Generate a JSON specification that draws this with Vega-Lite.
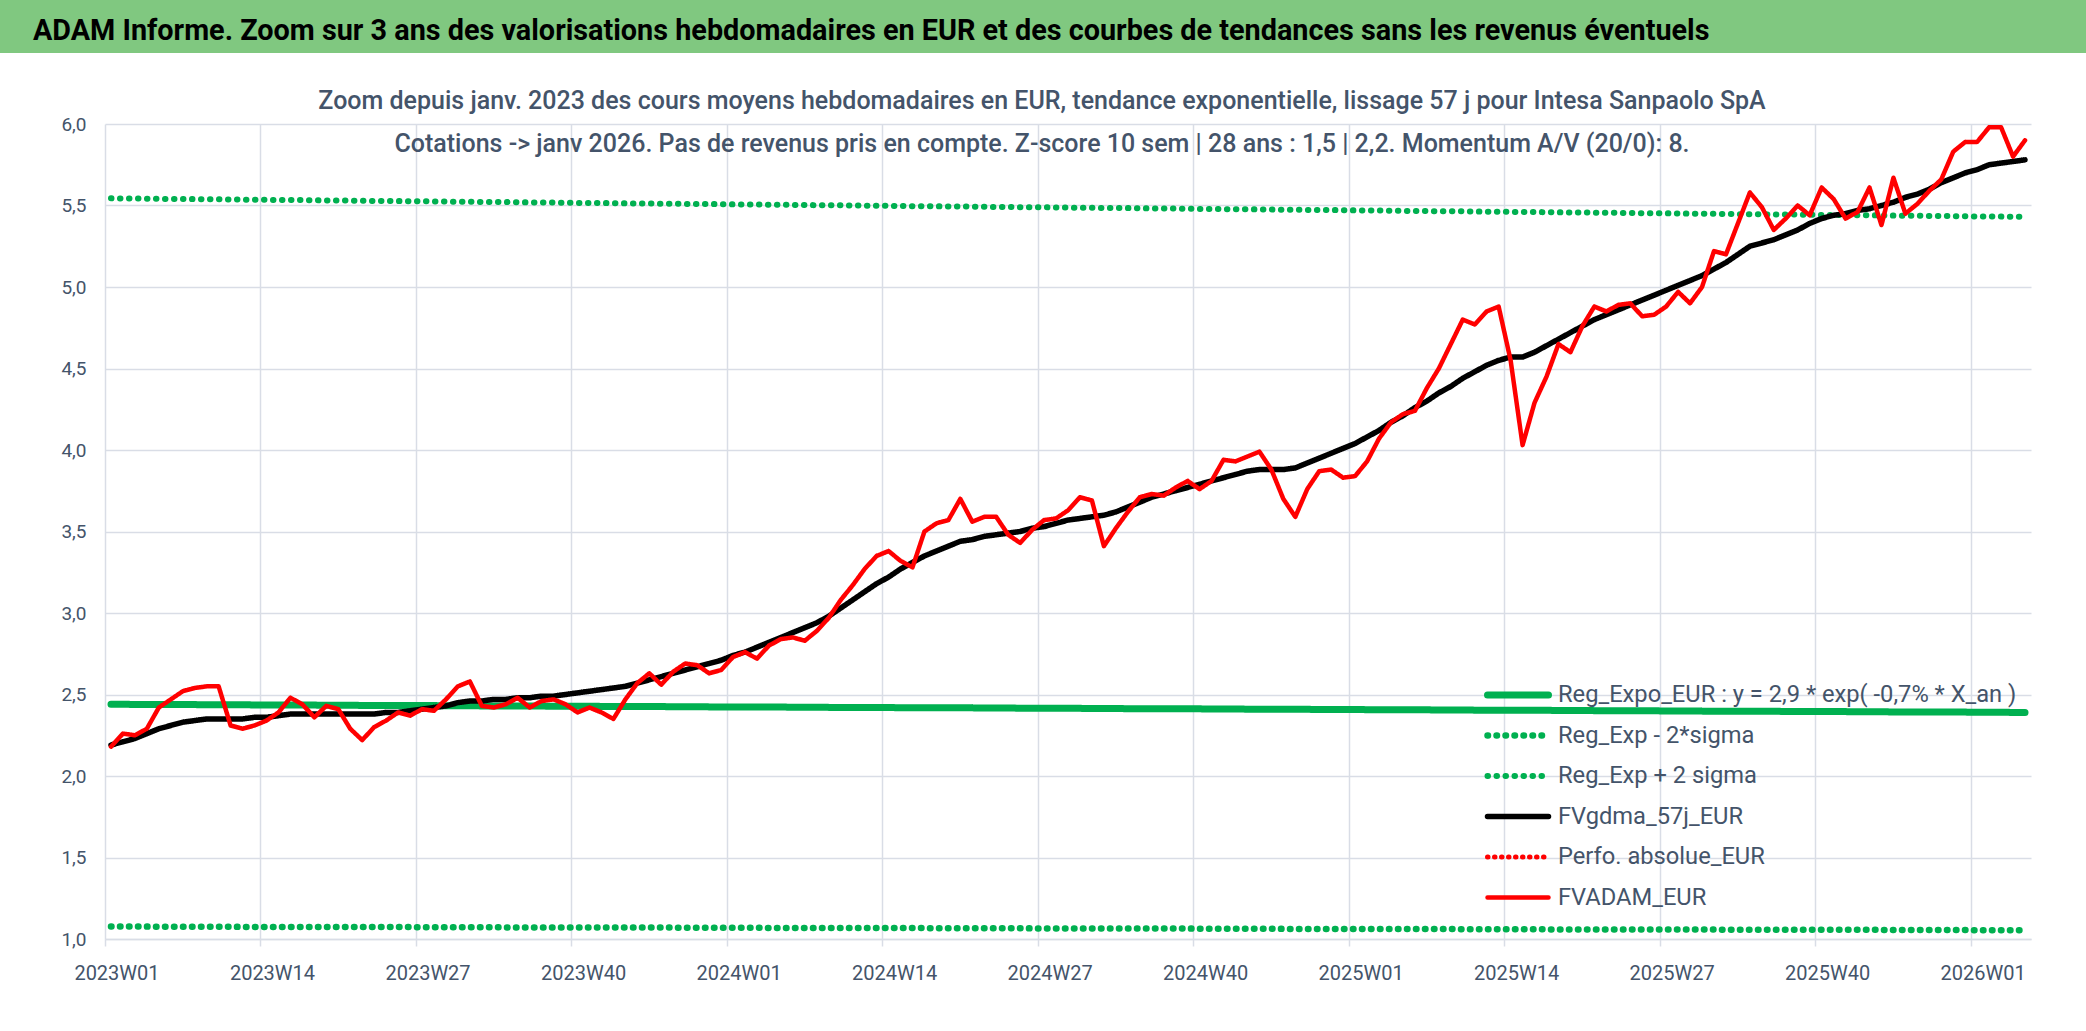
{
"$schema": "https://vega.github.io/schema/vega-lite/v6.json",
"padding": 0,
"background": "white",
"spacing": 36,
"config": {"view": {"stroke": null}},
"vconcat": [
{
 "width": 2086, "height": 53,
 "view": {"fill": "#80c880", "stroke": null},
 "data": {"values": [{"t": "ADAM Informe. Zoom sur 3 ans des valorisations hebdomadaires en EUR et des courbes de tendances sans les revenus éventuels"}]},
 "mark": {"type": "text", "align": "left", "baseline": "alphabetic", "dx": -1010, "dy": 13.5, "font": "Roboto", "fontSize": 28.8, "fontWeight": "bold", "color": "#000000"},
 "encoding": {"text": {"field": "t"}}
},
{"spacing": 0, "hconcat": [
{
 "width": 1, "height": 1,
 "data": {"values": []},
 "mark": {"type": "point", "opacity": 0},
 "encoding": {}
},
{
 "width": 1926, "height": 815,
 "title": {"text": ["Zoom depuis janv. 2023 des cours moyens hebdomadaires en EUR, tendance exponentielle, lissage 57 j pour Intesa Sanpaolo SpA", "Cotations -> janv 2026. Pas de revenus pris en compte. Z-score 10 sem | 28 ans : 1,5 | 2,2. Momentum A/V (20/0): 8."], "anchor": "middle", "frame": "group", "dx": -26, "offset": -42, "font": "Roboto", "fontSize": 25, "fontWeight": 500, "color": "#44546a", "lineHeight": 43},
 "data": {"values": [
{"w":"2023W01","reg":2.440,"lo":1.076,"hi":5.544,"ma":2.19,"fv":2.18},
{"w":"2023W02","reg":2.440,"lo":1.076,"hi":5.543,"ma":2.21,"fv":2.26},
{"w":"2023W03","reg":2.439,"lo":1.076,"hi":5.543,"ma":2.23,"fv":2.25},
{"w":"2023W04","reg":2.439,"lo":1.076,"hi":5.542,"ma":2.26,"fv":2.29},
{"w":"2023W05","reg":2.439,"lo":1.075,"hi":5.541,"ma":2.29,"fv":2.42},
{"w":"2023W06","reg":2.438,"lo":1.075,"hi":5.540,"ma":2.31,"fv":2.47},
{"w":"2023W07","reg":2.438,"lo":1.075,"hi":5.540,"ma":2.33,"fv":2.52},
{"w":"2023W08","reg":2.438,"lo":1.075,"hi":5.539,"ma":2.34,"fv":2.54},
{"w":"2023W09","reg":2.437,"lo":1.075,"hi":5.538,"ma":2.35,"fv":2.55},
{"w":"2023W10","reg":2.437,"lo":1.075,"hi":5.538,"ma":2.35,"fv":2.55},
{"w":"2023W11","reg":2.437,"lo":1.075,"hi":5.537,"ma":2.35,"fv":2.31},
{"w":"2023W12","reg":2.437,"lo":1.074,"hi":5.536,"ma":2.35,"fv":2.29},
{"w":"2023W13","reg":2.436,"lo":1.074,"hi":5.535,"ma":2.36,"fv":2.31},
{"w":"2023W14","reg":2.436,"lo":1.074,"hi":5.535,"ma":2.36,"fv":2.34},
{"w":"2023W15","reg":2.436,"lo":1.074,"hi":5.534,"ma":2.37,"fv":2.39},
{"w":"2023W16","reg":2.435,"lo":1.074,"hi":5.533,"ma":2.38,"fv":2.48},
{"w":"2023W17","reg":2.435,"lo":1.074,"hi":5.533,"ma":2.38,"fv":2.44},
{"w":"2023W18","reg":2.435,"lo":1.074,"hi":5.532,"ma":2.38,"fv":2.36},
{"w":"2023W19","reg":2.434,"lo":1.074,"hi":5.531,"ma":2.38,"fv":2.43},
{"w":"2023W20","reg":2.434,"lo":1.073,"hi":5.531,"ma":2.38,"fv":2.41},
{"w":"2023W21","reg":2.434,"lo":1.073,"hi":5.530,"ma":2.38,"fv":2.29},
{"w":"2023W22","reg":2.433,"lo":1.073,"hi":5.529,"ma":2.38,"fv":2.22},
{"w":"2023W23","reg":2.433,"lo":1.073,"hi":5.528,"ma":2.38,"fv":2.30},
{"w":"2023W24","reg":2.433,"lo":1.073,"hi":5.528,"ma":2.39,"fv":2.34},
{"w":"2023W25","reg":2.433,"lo":1.073,"hi":5.527,"ma":2.39,"fv":2.39},
{"w":"2023W26","reg":2.432,"lo":1.073,"hi":5.526,"ma":2.40,"fv":2.37},
{"w":"2023W27","reg":2.432,"lo":1.072,"hi":5.526,"ma":2.41,"fv":2.41},
{"w":"2023W28","reg":2.432,"lo":1.072,"hi":5.525,"ma":2.42,"fv":2.40},
{"w":"2023W29","reg":2.431,"lo":1.072,"hi":5.524,"ma":2.43,"fv":2.47},
{"w":"2023W30","reg":2.431,"lo":1.072,"hi":5.523,"ma":2.45,"fv":2.55},
{"w":"2023W31","reg":2.431,"lo":1.072,"hi":5.523,"ma":2.46,"fv":2.58},
{"w":"2023W32","reg":2.430,"lo":1.072,"hi":5.522,"ma":2.46,"fv":2.43},
{"w":"2023W33","reg":2.430,"lo":1.072,"hi":5.521,"ma":2.47,"fv":2.42},
{"w":"2023W34","reg":2.430,"lo":1.071,"hi":5.521,"ma":2.47,"fv":2.44},
{"w":"2023W35","reg":2.429,"lo":1.071,"hi":5.520,"ma":2.48,"fv":2.48},
{"w":"2023W36","reg":2.429,"lo":1.071,"hi":5.519,"ma":2.48,"fv":2.42},
{"w":"2023W37","reg":2.429,"lo":1.071,"hi":5.518,"ma":2.49,"fv":2.46},
{"w":"2023W38","reg":2.428,"lo":1.071,"hi":5.518,"ma":2.49,"fv":2.47},
{"w":"2023W39","reg":2.428,"lo":1.071,"hi":5.517,"ma":2.50,"fv":2.44},
{"w":"2023W40","reg":2.428,"lo":1.071,"hi":5.516,"ma":2.51,"fv":2.39},
{"w":"2023W41","reg":2.428,"lo":1.070,"hi":5.516,"ma":2.52,"fv":2.42},
{"w":"2023W42","reg":2.427,"lo":1.070,"hi":5.515,"ma":2.53,"fv":2.39},
{"w":"2023W43","reg":2.427,"lo":1.070,"hi":5.514,"ma":2.54,"fv":2.35},
{"w":"2023W44","reg":2.427,"lo":1.070,"hi":5.513,"ma":2.55,"fv":2.47},
{"w":"2023W45","reg":2.426,"lo":1.070,"hi":5.513,"ma":2.57,"fv":2.57},
{"w":"2023W46","reg":2.426,"lo":1.070,"hi":5.512,"ma":2.59,"fv":2.63},
{"w":"2023W47","reg":2.426,"lo":1.070,"hi":5.511,"ma":2.61,"fv":2.56},
{"w":"2023W48","reg":2.425,"lo":1.070,"hi":5.511,"ma":2.63,"fv":2.64},
{"w":"2023W49","reg":2.425,"lo":1.069,"hi":5.510,"ma":2.65,"fv":2.69},
{"w":"2023W50","reg":2.425,"lo":1.069,"hi":5.509,"ma":2.67,"fv":2.68},
{"w":"2023W51","reg":2.424,"lo":1.069,"hi":5.509,"ma":2.69,"fv":2.63},
{"w":"2023W52","reg":2.424,"lo":1.069,"hi":5.508,"ma":2.71,"fv":2.65},
{"w":"2024W01","reg":2.424,"lo":1.069,"hi":5.507,"ma":2.74,"fv":2.73},
{"w":"2024W02","reg":2.423,"lo":1.069,"hi":5.506,"ma":2.76,"fv":2.76},
{"w":"2024W03","reg":2.423,"lo":1.069,"hi":5.506,"ma":2.79,"fv":2.72},
{"w":"2024W04","reg":2.423,"lo":1.068,"hi":5.505,"ma":2.82,"fv":2.80},
{"w":"2024W05","reg":2.423,"lo":1.068,"hi":5.504,"ma":2.85,"fv":2.84},
{"w":"2024W06","reg":2.422,"lo":1.068,"hi":5.504,"ma":2.88,"fv":2.85},
{"w":"2024W07","reg":2.422,"lo":1.068,"hi":5.503,"ma":2.91,"fv":2.83},
{"w":"2024W08","reg":2.422,"lo":1.068,"hi":5.502,"ma":2.94,"fv":2.89},
{"w":"2024W09","reg":2.421,"lo":1.068,"hi":5.501,"ma":2.98,"fv":2.97},
{"w":"2024W10","reg":2.421,"lo":1.068,"hi":5.501,"ma":3.03,"fv":3.08},
{"w":"2024W11","reg":2.421,"lo":1.067,"hi":5.500,"ma":3.08,"fv":3.17},
{"w":"2024W12","reg":2.420,"lo":1.067,"hi":5.499,"ma":3.13,"fv":3.27},
{"w":"2024W13","reg":2.420,"lo":1.067,"hi":5.499,"ma":3.18,"fv":3.35},
{"w":"2024W14","reg":2.420,"lo":1.067,"hi":5.498,"ma":3.22,"fv":3.38},
{"w":"2024W15","reg":2.419,"lo":1.067,"hi":5.497,"ma":3.27,"fv":3.32},
{"w":"2024W16","reg":2.419,"lo":1.067,"hi":5.496,"ma":3.31,"fv":3.28},
{"w":"2024W17","reg":2.419,"lo":1.067,"hi":5.496,"ma":3.35,"fv":3.50},
{"w":"2024W18","reg":2.418,"lo":1.066,"hi":5.495,"ma":3.38,"fv":3.55},
{"w":"2024W19","reg":2.418,"lo":1.066,"hi":5.494,"ma":3.41,"fv":3.57},
{"w":"2024W20","reg":2.418,"lo":1.066,"hi":5.494,"ma":3.44,"fv":3.70},
{"w":"2024W21","reg":2.418,"lo":1.066,"hi":5.493,"ma":3.45,"fv":3.56},
{"w":"2024W22","reg":2.417,"lo":1.066,"hi":5.492,"ma":3.47,"fv":3.59},
{"w":"2024W23","reg":2.417,"lo":1.066,"hi":5.491,"ma":3.48,"fv":3.59},
{"w":"2024W24","reg":2.417,"lo":1.066,"hi":5.491,"ma":3.49,"fv":3.48},
{"w":"2024W25","reg":2.416,"lo":1.066,"hi":5.490,"ma":3.50,"fv":3.43},
{"w":"2024W26","reg":2.416,"lo":1.065,"hi":5.489,"ma":3.52,"fv":3.51},
{"w":"2024W27","reg":2.416,"lo":1.065,"hi":5.489,"ma":3.53,"fv":3.57},
{"w":"2024W28","reg":2.415,"lo":1.065,"hi":5.488,"ma":3.55,"fv":3.58},
{"w":"2024W29","reg":2.415,"lo":1.065,"hi":5.487,"ma":3.57,"fv":3.63},
{"w":"2024W30","reg":2.415,"lo":1.065,"hi":5.486,"ma":3.58,"fv":3.71},
{"w":"2024W31","reg":2.414,"lo":1.065,"hi":5.486,"ma":3.59,"fv":3.69},
{"w":"2024W32","reg":2.414,"lo":1.065,"hi":5.485,"ma":3.60,"fv":3.41},
{"w":"2024W33","reg":2.414,"lo":1.064,"hi":5.484,"ma":3.62,"fv":3.52},
{"w":"2024W34","reg":2.413,"lo":1.064,"hi":5.484,"ma":3.65,"fv":3.62},
{"w":"2024W35","reg":2.413,"lo":1.064,"hi":5.483,"ma":3.68,"fv":3.71},
{"w":"2024W36","reg":2.413,"lo":1.064,"hi":5.482,"ma":3.71,"fv":3.73},
{"w":"2024W37","reg":2.413,"lo":1.064,"hi":5.482,"ma":3.73,"fv":3.72},
{"w":"2024W38","reg":2.412,"lo":1.064,"hi":5.481,"ma":3.75,"fv":3.77},
{"w":"2024W39","reg":2.412,"lo":1.064,"hi":5.480,"ma":3.77,"fv":3.81},
{"w":"2024W40","reg":2.412,"lo":1.063,"hi":5.479,"ma":3.79,"fv":3.76},
{"w":"2024W41","reg":2.411,"lo":1.063,"hi":5.479,"ma":3.81,"fv":3.81},
{"w":"2024W42","reg":2.411,"lo":1.063,"hi":5.478,"ma":3.83,"fv":3.94},
{"w":"2024W43","reg":2.411,"lo":1.063,"hi":5.477,"ma":3.85,"fv":3.93},
{"w":"2024W44","reg":2.410,"lo":1.063,"hi":5.477,"ma":3.87,"fv":3.96},
{"w":"2024W45","reg":2.410,"lo":1.063,"hi":5.476,"ma":3.88,"fv":3.99},
{"w":"2024W46","reg":2.410,"lo":1.063,"hi":5.475,"ma":3.88,"fv":3.88},
{"w":"2024W47","reg":2.409,"lo":1.062,"hi":5.474,"ma":3.88,"fv":3.70},
{"w":"2024W48","reg":2.409,"lo":1.062,"hi":5.474,"ma":3.89,"fv":3.59},
{"w":"2024W49","reg":2.409,"lo":1.062,"hi":5.473,"ma":3.92,"fv":3.76},
{"w":"2024W50","reg":2.408,"lo":1.062,"hi":5.472,"ma":3.95,"fv":3.87},
{"w":"2024W51","reg":2.408,"lo":1.062,"hi":5.472,"ma":3.98,"fv":3.88},
{"w":"2024W52","reg":2.408,"lo":1.062,"hi":5.471,"ma":4.01,"fv":3.83},
{"w":"2025W01","reg":2.408,"lo":1.062,"hi":5.470,"ma":4.04,"fv":3.84},
{"w":"2025W02","reg":2.407,"lo":1.062,"hi":5.469,"ma":4.08,"fv":3.93},
{"w":"2025W03","reg":2.407,"lo":1.061,"hi":5.469,"ma":4.12,"fv":4.07},
{"w":"2025W04","reg":2.407,"lo":1.061,"hi":5.468,"ma":4.17,"fv":4.17},
{"w":"2025W05","reg":2.406,"lo":1.061,"hi":5.467,"ma":4.21,"fv":4.22},
{"w":"2025W06","reg":2.406,"lo":1.061,"hi":5.467,"ma":4.26,"fv":4.24},
{"w":"2025W07","reg":2.406,"lo":1.061,"hi":5.466,"ma":4.30,"fv":4.38},
{"w":"2025W08","reg":2.405,"lo":1.061,"hi":5.465,"ma":4.35,"fv":4.50},
{"w":"2025W09","reg":2.405,"lo":1.061,"hi":5.464,"ma":4.39,"fv":4.65},
{"w":"2025W10","reg":2.405,"lo":1.060,"hi":5.464,"ma":4.44,"fv":4.80},
{"w":"2025W11","reg":2.404,"lo":1.060,"hi":5.463,"ma":4.48,"fv":4.77},
{"w":"2025W12","reg":2.404,"lo":1.060,"hi":5.462,"ma":4.52,"fv":4.85},
{"w":"2025W13","reg":2.404,"lo":1.060,"hi":5.462,"ma":4.55,"fv":4.88},
{"w":"2025W14","reg":2.403,"lo":1.060,"hi":5.461,"ma":4.57,"fv":4.55},
{"w":"2025W15","reg":2.403,"lo":1.060,"hi":5.460,"ma":4.57,"fv":4.03},
{"w":"2025W16","reg":2.403,"lo":1.060,"hi":5.460,"ma":4.60,"fv":4.29},
{"w":"2025W17","reg":2.403,"lo":1.059,"hi":5.459,"ma":4.64,"fv":4.45},
{"w":"2025W18","reg":2.402,"lo":1.059,"hi":5.458,"ma":4.68,"fv":4.65},
{"w":"2025W19","reg":2.402,"lo":1.059,"hi":5.457,"ma":4.72,"fv":4.60},
{"w":"2025W20","reg":2.402,"lo":1.059,"hi":5.457,"ma":4.76,"fv":4.76},
{"w":"2025W21","reg":2.401,"lo":1.059,"hi":5.456,"ma":4.80,"fv":4.88},
{"w":"2025W22","reg":2.401,"lo":1.059,"hi":5.455,"ma":4.83,"fv":4.85},
{"w":"2025W23","reg":2.401,"lo":1.059,"hi":5.455,"ma":4.86,"fv":4.89},
{"w":"2025W24","reg":2.400,"lo":1.058,"hi":5.454,"ma":4.89,"fv":4.90},
{"w":"2025W25","reg":2.400,"lo":1.058,"hi":5.453,"ma":4.92,"fv":4.82},
{"w":"2025W26","reg":2.400,"lo":1.058,"hi":5.452,"ma":4.95,"fv":4.83},
{"w":"2025W27","reg":2.399,"lo":1.058,"hi":5.452,"ma":4.98,"fv":4.88},
{"w":"2025W28","reg":2.399,"lo":1.058,"hi":5.451,"ma":5.01,"fv":4.97},
{"w":"2025W29","reg":2.399,"lo":1.058,"hi":5.450,"ma":5.04,"fv":4.90},
{"w":"2025W30","reg":2.398,"lo":1.058,"hi":5.450,"ma":5.07,"fv":5.00},
{"w":"2025W31","reg":2.398,"lo":1.058,"hi":5.449,"ma":5.11,"fv":5.22},
{"w":"2025W32","reg":2.398,"lo":1.057,"hi":5.448,"ma":5.15,"fv":5.20},
{"w":"2025W33","reg":2.398,"lo":1.057,"hi":5.447,"ma":5.20,"fv":5.39},
{"w":"2025W34","reg":2.397,"lo":1.057,"hi":5.447,"ma":5.25,"fv":5.58},
{"w":"2025W35","reg":2.397,"lo":1.057,"hi":5.446,"ma":5.27,"fv":5.49},
{"w":"2025W36","reg":2.397,"lo":1.057,"hi":5.445,"ma":5.29,"fv":5.35},
{"w":"2025W37","reg":2.396,"lo":1.057,"hi":5.445,"ma":5.32,"fv":5.42},
{"w":"2025W38","reg":2.396,"lo":1.057,"hi":5.444,"ma":5.35,"fv":5.50},
{"w":"2025W39","reg":2.396,"lo":1.056,"hi":5.443,"ma":5.39,"fv":5.44},
{"w":"2025W40","reg":2.395,"lo":1.056,"hi":5.442,"ma":5.42,"fv":5.61},
{"w":"2025W41","reg":2.395,"lo":1.056,"hi":5.442,"ma":5.44,"fv":5.54},
{"w":"2025W42","reg":2.395,"lo":1.056,"hi":5.441,"ma":5.45,"fv":5.42},
{"w":"2025W43","reg":2.394,"lo":1.056,"hi":5.440,"ma":5.47,"fv":5.46},
{"w":"2025W44","reg":2.394,"lo":1.056,"hi":5.440,"ma":5.48,"fv":5.61},
{"w":"2025W45","reg":2.394,"lo":1.056,"hi":5.439,"ma":5.50,"fv":5.38},
{"w":"2025W46","reg":2.393,"lo":1.055,"hi":5.438,"ma":5.52,"fv":5.67},
{"w":"2025W47","reg":2.393,"lo":1.055,"hi":5.437,"ma":5.55,"fv":5.45},
{"w":"2025W48","reg":2.393,"lo":1.055,"hi":5.437,"ma":5.57,"fv":5.51},
{"w":"2025W49","reg":2.393,"lo":1.055,"hi":5.436,"ma":5.60,"fv":5.59},
{"w":"2025W50","reg":2.392,"lo":1.055,"hi":5.435,"ma":5.64,"fv":5.66},
{"w":"2025W51","reg":2.392,"lo":1.055,"hi":5.435,"ma":5.67,"fv":5.83},
{"w":"2025W52","reg":2.392,"lo":1.055,"hi":5.434,"ma":5.70,"fv":5.89},
{"w":"2026W01","reg":2.391,"lo":1.054,"hi":5.433,"ma":5.72,"fv":5.89},
{"w":"2026W02","reg":2.391,"lo":1.054,"hi":5.433,"ma":5.75,"fv":5.98},
{"w":"2026W03","reg":2.391,"lo":1.054,"hi":5.432,"ma":5.76,"fv":5.98},
{"w":"2026W04","reg":2.390,"lo":1.054,"hi":5.431,"ma":5.77,"fv":5.80},
{"w":"2026W05","reg":2.390,"lo":1.054,"hi":5.430,"ma":5.78,"fv":5.90}
 ]},
 "transform": [{"fold": ["reg", "lo", "hi", "ma", "fv"], "as": ["k", "v"]}],
 "mark": {"type": "line", "strokeCap": "round", "strokeJoin": "round"},
 "encoding": {
  "x": {"field": "w", "type": "ordinal", "sort": null, "scale": {"type": "band", "paddingInner": 0, "paddingOuter": 0},
   "axis": {"title": null, "values": ["2023W01","2023W14","2023W27","2023W40","2024W01","2024W14","2024W27","2024W40","2025W01","2025W14","2025W27","2025W40","2026W01"], "bandPosition": 0, "labelOffset": 6, "labelAngle": 0, "labelOverlap": false, "labelBound": false, "labelFlush": false, "domain": true, "domainColor": "#d9dde6", "domainWidth": 1.5, "ticks": true, "tickColor": "#d9dde6", "tickSize": 7, "tickWidth": 1.5, "grid": true, "gridColor": "#d9dde6", "gridWidth": 1.5, "labelFont": "Roboto", "labelFontSize": 20, "labelColor": "#44546a", "labelPadding": 17}},
  "y": {"field": "v", "type": "quantitative", "scale": {"domain": [1, 6], "nice": false, "zero": false},
   "axis": {"title": null, "values": [1, 1.5, 2, 2.5, 3, 3.5, 4, 4.5, 5, 5.5, 6], "labelExpr": "replace(format(datum.value, '.1f'), '.', ',')", "domain": false, "ticks": false, "grid": true, "gridColor": "#d9dde6", "gridWidth": 1.5, "labelFont": "Roboto", "labelFontSize": 19, "labelColor": "#44546a", "labelPadding": 19, "minExtent": 104, "maxExtent": 104}},
  "color": {"field": "k", "type": "nominal", "scale": {"domain": ["reg", "lo", "hi", "ma", "perfo", "fv"], "range": ["#00b050", "#00b050", "#00b050", "#000000", "#ff0000", "#ff0000"]},
   "legend": {"title": null, "orient": "none", "legendX": 1484, "legendY": 680, "symbolType": "stroke", "symbolSize": 3721, "symbolOpacity": 1, "clipHeight": 30, "labelFont": "Roboto", "labelFontSize": 23.7, "labelColor": "#44546a", "labelOffset": 6, "rowPadding": 10.5, "labelLimit": 800,
    "labelExpr": "datum.value == 'reg' ? 'Reg_Expo_EUR : y = 2,9 * exp( -0,7% *  X_an )' : datum.value == 'lo' ? 'Reg_Exp - 2*sigma' : datum.value == 'hi' ? 'Reg_Exp + 2 sigma' : datum.value == 'ma' ? 'FVgdma_57j_EUR' : datum.value == 'perfo' ? 'Perfo. absolue_EUR' : 'FVADAM_EUR'",
    "encode": {"symbols": {"update": {"strokeCap": {"value": "round"}}}}}},
  "strokeDash": {"field": "k", "type": "nominal", "scale": {"domain": ["reg", "lo", "hi", "ma", "perfo", "fv"], "range": [[1, 0], [0.5, 8.5], [0.5, 8.5], [1, 0], [0.5, 6.5], [1, 0]]},
   "legend": {"title": null, "orient": "none", "legendX": 1484, "legendY": 680, "symbolType": "stroke", "symbolSize": 3721, "symbolOpacity": 1, "clipHeight": 30, "labelFont": "Roboto", "labelFontSize": 23.7, "labelColor": "#44546a", "labelOffset": 6, "rowPadding": 10.5, "labelLimit": 800,
    "labelExpr": "datum.value == 'reg' ? 'Reg_Expo_EUR : y = 2,9 * exp( -0,7% *  X_an )' : datum.value == 'lo' ? 'Reg_Exp - 2*sigma' : datum.value == 'hi' ? 'Reg_Exp + 2 sigma' : datum.value == 'ma' ? 'FVgdma_57j_EUR' : datum.value == 'perfo' ? 'Perfo. absolue_EUR' : 'FVADAM_EUR'",
    "encode": {"symbols": {"update": {"strokeCap": {"value": "round"}}}}}},
  "strokeWidth": {"field": "k", "type": "nominal", "scale": {"domain": ["reg", "lo", "hi", "ma", "perfo", "fv"], "range": [7, 4.5, 4.5, 5, 2.5, 6.5]},
   "legend": {"title": null, "orient": "none", "legendX": 1484, "legendY": 680, "symbolType": "stroke", "symbolSize": 3721, "symbolOpacity": 1, "clipHeight": 30, "labelFont": "Roboto", "labelFontSize": 23.7, "labelColor": "#44546a", "labelOffset": 6, "rowPadding": 10.5, "labelLimit": 800,
    "labelExpr": "datum.value == 'reg' ? 'Reg_Expo_EUR : y = 2,9 * exp( -0,7% *  X_an )' : datum.value == 'lo' ? 'Reg_Exp - 2*sigma' : datum.value == 'hi' ? 'Reg_Exp + 2 sigma' : datum.value == 'ma' ? 'FVgdma_57j_EUR' : datum.value == 'perfo' ? 'Perfo. absolue_EUR' : 'FVADAM_EUR'",
    "encode": {"symbols": {"update": {"strokeCap": {"value": "round"}}}}}}
 }
}
]}
]
}
